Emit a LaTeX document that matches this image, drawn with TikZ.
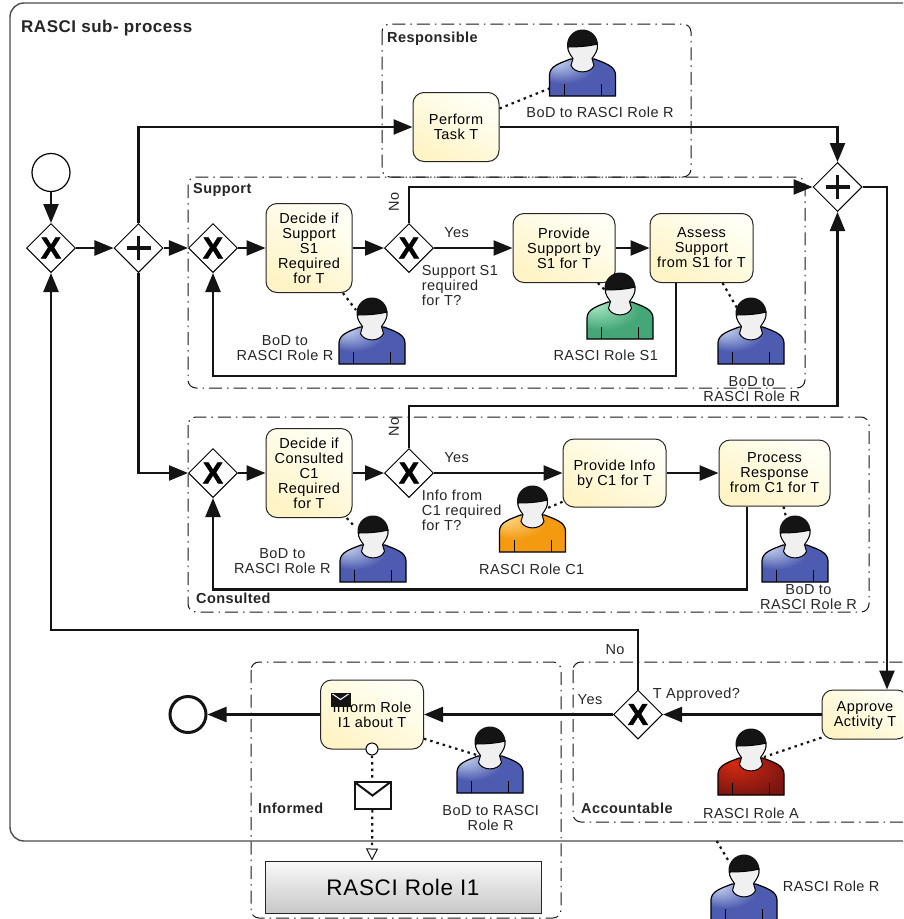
\documentclass[tikz,border=0pt]{standalone}
\usepackage{fontspec}
\setmainfont[LetterSpace=3]{Liberation Sans}
\newfontfamily\gatexfont[BoldFeatures={FakeBold=2}]{Liberation Sans}
\usetikzlibrary{arrows.meta,shapes.geometric}
\definecolor{rolebluemain}{HTML}{4D5BB0}
\definecolor{roleblueglow}{HTML}{CFDDF6}
\definecolor{rolegreenmain}{HTML}{45A678}
\definecolor{rolegreenglow}{HTML}{B0ECC8}
\definecolor{roleorangemain}{HTML}{F39A10}
\definecolor{roleorangeglow}{HTML}{FFDC96}
\definecolor{roleredmain}{HTML}{7A1510}
\definecolor{roleredglow}{HTML}{D42A12}
\definecolor{inkline}{HTML}{141414}
\definecolor{taskhi}{HTML}{FFFFF6}
\definecolor{tasklo}{HTML}{FFF4C6}
\pgfdeclareradialshading{roleblue}{\pgfpoint{-22bp}{24bp}}{color(0bp)=(roleblueglow); color(24bp)=(rolebluemain); color(70bp)=(rolebluemain)}
\pgfdeclareradialshading{rolegreen}{\pgfpoint{-22bp}{24bp}}{color(0bp)=(rolegreenglow); color(28bp)=(rolegreenmain); color(70bp)=(rolegreenmain)}
\pgfdeclareradialshading{roleorange}{\pgfpoint{-22bp}{24bp}}{color(0bp)=(roleorangeglow); color(24bp)=(roleorangemain); color(70bp)=(roleorangemain)}
\pgfdeclareradialshading{rolered}{\pgfpoint{-14bp}{18bp}}{color(0bp)=(roleredglow); color(36bp)=(roleredmain); color(70bp)=(roleredmain)}
\tikzset{
  flow/.style={line width=2.4pt,draw=inkline,-{Triangle[length=19pt,width=15pt]}},
  assoc/.style={line width=2.2pt,draw=inkline,dash pattern=on 2.5pt off 4pt},
  groupline/.style={line width=1pt,draw=black!90,rounded corners=8pt,dash pattern=on 13pt off 5pt on 1.5pt off 5pt},
  task/.style={draw=black!85,line width=1pt,rounded corners=11pt,inner sep=0pt,align=center,top color=taskhi,bottom color=tasklo,shading angle=-30},
  xorgate/.style={diamond,draw=black,line width=1pt,fill=white,aspect=1,inner sep=0pt,minimum width=49pt,minimum height=49pt,font=\fontsize{30}{30}\gatexfont\bfseries},
  andgate/.style={diamond,draw=black,line width=1pt,fill=white,aspect=1,inner sep=0pt,minimum width=49pt,minimum height=49pt,
    path picture={\draw[line width=3.6pt,draw=inkline] ([xshift=-12pt]path picture bounding box.center) -- ([xshift=12pt]path picture bounding box.center)
      ([yshift=-12pt]path picture bounding box.center) -- ([yshift=12pt]path picture bounding box.center);}},
  lbl/.style={inner sep=0pt,align=center,text=black!85},
  lblleft/.style={inner sep=0pt,align=left,anchor=west,text=black!85},
  grouplbl/.style={inner sep=0pt,anchor=west,font=\fontsize{14.5}{15}\selectfont\bfseries,text=black!85},
}
\newcommand{\rolefigure}[2]{%
  \begin{scope}[shift={(#1)}]
    \shade[shading=#2,draw=black,line width=1.2pt] (-33,33) -- (-33,12) .. controls (-33,3) and (-22,0) .. (-12,-4) -- (12,-4) .. controls (22,0) and (33,3) .. (33,12) -- (33,33) -- cycle;
    \draw[line width=1pt] (-18.5,33) -- (-18.5,21) (18.5,33) -- (18.5,21);
    \fill[inkline] (0,-18) circle (15.5);
    \filldraw[fill=black!6,draw=black,line width=1pt] (-14.5,-16) .. controls (-6,-16) and (6,-16.5) .. (15,-19) .. controls (16,-13) and (12,-8) .. (9.5,-4.5) .. controls (9.5,-2) and (11.5,0) .. (11.5,2.5) .. controls (8,11) and (-8,11) .. (-11.5,2.5) .. controls (-11.5,0) and (-9.5,-2) .. (-9.5,-4.5) .. controls (-12,-8) and (-15,-12) .. (-14.5,-16) -- cycle;
  \end{scope}}
\begin{document}
\begin{tikzpicture}[x=1pt,y=-1pt,font=\fontsize{14.5}{15}\selectfont]
\path[use as bounding box,clip] (0,0) rectangle (903,919);
\fill[white] (0,0) rectangle (903,919);
\draw[line width=1.4pt,draw=black!70,rounded corners=14pt] (10,3) rectangle (930,841);
\draw[groupline] (382,24) rectangle (691,177);
\draw[groupline] (188,177) rectangle (805,388);
\draw[groupline] (188,417) rectangle (869,612);
\draw[groupline] (251,662) rectangle (561,918);
\draw[groupline] (573,662) rectangle (930,822);

\node[grouplbl,font=\fontsize{17}{18}\selectfont\bfseries] (lblsub) at (21,28.5) {RASCI sub- process};
\node[grouplbl] (lblresp) at (387,38.5) {Responsible};
\node[grouplbl] (lblsup) at (193,190) {Support};
\node[grouplbl] (lblcon) at (196,598) {Consulted};
\node[grouplbl] (lblinf) at (258,808) {Informed};
\node[grouplbl] (lblacc) at (581,808) {Accountable};

\coordinate (rperf) at (582.5,63);
\coordinate (rdecsup) at (372,331);
\coordinate (rprovsup) at (620,306);
\coordinate (rasssup) at (751,331);
\coordinate (rdeccon) at (373,549);
\coordinate (rprovcon) at (532.5,519);
\coordinate (rproccon) at (795,549);
\coordinate (rapprove) at (751,762);
\coordinate (rinform) at (490,760);
\coordinate (rsub) at (744,888);
\coordinate (subedge) at (716.7,841);

\node[draw=black,line width=1.2pt,circle,fill=white,inner sep=0pt,minimum size=38pt] (startev) at (51,172.5) {};
\node[xorgate] (xorentry) at (51,248) {X};
\node[andgate] (andsplit) at (138.5,248) {};
\node[task,minimum width=86pt,minimum height=69pt] (perform) at (456,127) {Perform\\Task T};
\node[andgate] (andjoin) at (837.5,187) {};

\node[xorgate] (xorsup) at (213,248) {X};
\node[task,minimum width=86pt,minimum height=89pt] (decsup) at (309,248) {Decide if\\Support\\S1\\Required\\for T};
\node[xorgate] (xorsupq) at (409,248) {X};
\node[task,minimum width=102pt,minimum height=69pt] (provsup) at (564,248) {Provide\\Support by\\S1 for T};
\node[task,minimum width=103pt,minimum height=69pt] (asssup) at (701.5,248) {Assess\\Support\\from S1 for T};

\node[xorgate] (xorcon) at (213,473) {X};
\node[task,minimum width=86pt,minimum height=89pt] (deccon) at (309,473) {Decide if\\Consulted\\C1\\Required\\for T};
\node[xorgate] (xorconq) at (409,473) {X};
\node[task,minimum width=103pt,minimum height=68pt] (provcon) at (614.5,473) {Provide Info\\\smash{by C1 for T}};
\node[task,minimum width=111pt,minimum height=66pt] (proccon) at (774.5,473) {Process\\Response\\from C1 for T};

\node[task,minimum width=86pt,minimum height=49pt] (approve) at (865,714.5) {Approve\\\smash{Activity T}};
\node[xorgate] (xorapp) at (638,714.5) {X};
\node[task,minimum width=103pt,minimum height=69pt] (inform) at (372,714.5) {Inform Role\\I1 about T};
\node[draw=inkline,line width=3pt,circle,fill=white,inner sep=0pt,minimum size=36pt] (endev) at (188,714.5) {};
\node[fill=inkline,draw=inkline,inner sep=0pt,minimum width=19pt,minimum height=13pt,
  path picture={\draw[white,line width=1pt] (path picture bounding box.north west) -- (path picture bounding box.center) -- (path picture bounding box.north east);}] (informmail) at (340.5,699.5) {};
\node[circle,draw=black,line width=1pt,fill=white,inner sep=0pt,minimum size=12pt] (boundary) at (372,749) {};
\node[draw=inkline,line width=2pt,fill=white,inner sep=0pt,minimum width=36pt,minimum height=27pt,
  path picture={\draw[inkline,line width=2pt] (path picture bounding box.north west) -- (path picture bounding box.center) -- (path picture bounding box.north east);}] (mail) at (372.5,795.5) {};
\node[draw=black!85,line width=1pt,top color=black!2,bottom color=black!22,inner sep=0pt,minimum width=276pt,minimum height=52pt,font=\fontsize{22.5}{24}\selectfont] (rolei) at (403,887) {RASCI Role I1};

\draw[flow] (startev) -- (xorentry);
\draw[flow] (xorentry) -- (andsplit);
\draw[flow] (andsplit) -- (xorsup);
\draw[flow] (andsplit.north) |- (perform.west);
\draw[flow] (andsplit.south) |- (xorcon.west);
\draw[flow] (perform.east) -| (andjoin.north);
\draw[flow] (xorsup) -- (decsup);
\draw[flow] (decsup) -- (xorsupq);
\draw[flow] (xorsupq) -- (provsup);
\draw[flow] (provsup) -- (asssup);
\draw[flow] (xorsupq.north) |- (andjoin.west);
\draw[flow] ([xshift=-25.8pt]asssup.south) -- ++(0,93) -| (xorsup.south);
\draw[flow] (xorcon) -- (deccon);
\draw[flow] (deccon) -- (xorconq);
\draw[flow] (xorconq) -- (provcon);
\draw[flow] (provcon) -- (proccon);
\draw[flow] (xorconq.north) -- ++(0,-42) -| (andjoin.south);
\draw[flow] ([xshift=-27.6pt]proccon.south) -- ++(0,83) -| (xorcon.south);
\draw[flow] (andjoin.east) -| ([xshift=22pt]approve.north);
\draw[flow] (approve) -- (xorapp);
\draw[flow] (xorapp) -- (inform);
\draw[flow] (inform.west) -- (endev.east);
\draw[flow] (xorapp.north) -- ++(0,-59.5) -| (xorentry.south);

\draw[assoc] (perform.23) -- ([shift={(-32,25)}]rperf);
\draw[assoc] (decsup.-53) -- ([shift={(-16,-21)}]rdecsup);
\draw[assoc] (provsup.-46) -- ([shift={(-14,-15)}]rprovsup);
\draw[assoc] (asssup.-59) -- ([shift={(-14,-23)}]rasssup);
\draw[assoc] (deccon.-50) -- ([shift={(-18,-22)}]rdeccon);
\draw[assoc] (provcon.209) -- ([shift={(15,-11)}]rprovcon);
\draw[assoc] (proccon.-75) -- ([shift={(-9,-32)}]rproccon);
\draw[assoc] (approve.208) -- ([shift={(13,-5)}]rapprove);
\draw[assoc] (inform.-25) -- ([shift={(-10,-4)}]rinform);
\draw[assoc] (subedge) -- ([shift={(-16,-28)}]rsub);
\draw[assoc] (boundary) -- (mail);
\draw[assoc,-{Triangle[open,fill=white,length=12pt,width=12pt,line width=1pt]}] (mail) -- (boundary|-rolei.north);

\foreach \r/\s in {rperf/roleblue,rdecsup/roleblue,rprovsup/rolegreen,rasssup/roleblue,rdeccon/roleblue,rprovcon/roleorange,rproccon/roleblue,rapprove/rolered,rinform/roleblue,rsub/roleblue}
  \rolefigure{\r}{\s};

\node[lbl] (txtperf) at (600,112) {BoD to RASCI Role R};
\node[lbl] (txtdecsup) at (285,348) {BoD to\\RASCI Role R};
\node[lbl] (txtprovsup) at (605.7,355) {RASCI Role S1};
\node[lbl] (txtasssup) at (751.7,389) {BoD to\\RASCI Role R};
\node[lbl] (txtdeccon) at (282.3,561.5) {BoD to\\RASCI Role R};
\node[lbl] (txtprovcon) at (531.7,569) {RASCI Role C1};
\node[lbl] (txtproccon) at (808.5,597.5) {BoD to\\RASCI Role R};
\node[lbl] (txtapprove) at (751,813) {RASCI Role A};
\node[lbl] (txtinform) at (490.7,817.5) {BoD to RASCI\\Role R};
\node[lblleft] (txtsub) at (782.7,886) {RASCI Role R};
\node[lblleft] (qsup) at (421.7,286) {Support S1\\required\\for T?};
\node[lblleft] (qcon) at (421.7,510) {Info from\\C1 required\\for T?};
\node[lblleft] (qapp) at (652.7,695) {T Approved?};
\node[lbl] (yessup) at (456.7,232.7) {Yes};
\node[lbl,rotate=90] (nosup) at (394,202) {No};
\node[lbl] (yescon) at (456.7,457.7) {Yes};
\node[lbl,rotate=90] (nocon) at (394,426.7) {No};
\node[lbl] (yesapp) at (590,700) {Yes};
\node[lbl] (noapp) at (615,650) {No};
\end{tikzpicture}
\end{document}
